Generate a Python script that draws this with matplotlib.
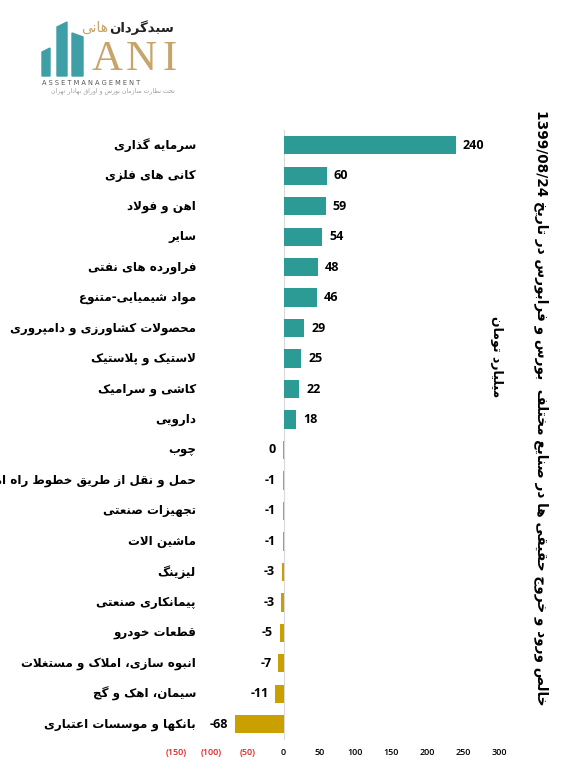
import re
import matplotlib
matplotlib.use("Agg")
import matplotlib.pyplot as plt
from matplotlib.patches import Polygon
from matplotlib.ticker import FuncFormatter
import matplotlib.transforms as mtransforms

# --- data ---
sectors = [
    "سرمایه گذاری", "کانی های فلزی", "اهن و فولاد", "سایر", "فراورده های نفتی",
    "مواد شیمیایی-متنوع", "محصولات کشاورزی و دامپروری", "لاستیک و پلاستیک",
    "کاشی و سرامیک", "دارویی", "چوب", "حمل و نقل از طریق خطوط راه اهن",
    "تجهیزات صنعتی", "ماشین الات", "لیزینگ", "پیمانکاری صنعتی", "قطعات خودرو",
    "انبوه سازی، املاک و مستغلات", "سیمان، اهک و گچ", "بانکها و موسسات اعتباری",
]
net_flow = [240, 60, 59, 54, 48, 46, 29, 25, 22, 18,
            -0.3, -0.7, -0.9, -1.1, -2.6, -3.2, -4.8, -7.2, -11.3, -68]
flow_labels = ["240", "60", "59", "54", "48", "46", "29", "25", "22", "18",
               "0", "-1", "-1", "-1", "-3", "-3", "-5", "-7", "-11", "-68"]
x_ticks = [-150, -100, -50, 0, 50, 100, 150, 200, 250, 300]
title = "خالص ورود و خروج حقیقی ها در صنایع مختلف  بورس و فرابورس در تاریخ 1399/08/24"
unit = "میلیارد تومان"

TEAL = "#2C9A95"
GOLD = "#C9A000"

# --- tiny arabic/persian shaper (matplotlib has no complex text layout) ---
FORMS = {
    "ا": (0xFE8D, 0xFE8E), "آ": (0xFE81, 0xFE82), "د": (0xFEA9, 0xFEAA),
    "ذ": (0xFEAB, 0xFEAC), "ر": (0xFEAD, 0xFEAE), "ز": (0xFEAF, 0xFEB0),
    "ژ": (0xFB8A, 0xFB8B), "و": (0xFEED, 0xFEEE),
    "ب": (0xFE8F, 0xFE90, 0xFE91, 0xFE92), "ت": (0xFE95, 0xFE96, 0xFE97, 0xFE98),
    "ث": (0xFE99, 0xFE9A, 0xFE9B, 0xFE9C), "ج": (0xFE9D, 0xFE9E, 0xFE9F, 0xFEA0),
    "ح": (0xFEA1, 0xFEA2, 0xFEA3, 0xFEA4), "خ": (0xFEA5, 0xFEA6, 0xFEA7, 0xFEA8),
    "س": (0xFEB1, 0xFEB2, 0xFEB3, 0xFEB4), "ش": (0xFEB5, 0xFEB6, 0xFEB7, 0xFEB8),
    "ص": (0xFEB9, 0xFEBA, 0xFEBB, 0xFEBC), "ض": (0xFEBD, 0xFEBE, 0xFEBF, 0xFEC0),
    "ط": (0xFEC1, 0xFEC2, 0xFEC3, 0xFEC4), "ظ": (0xFEC5, 0xFEC6, 0xFEC7, 0xFEC8),
    "ع": (0xFEC9, 0xFECA, 0xFECB, 0xFECC), "غ": (0xFECD, 0xFECE, 0xFECF, 0xFED0),
    "ف": (0xFED1, 0xFED2, 0xFED3, 0xFED4), "ق": (0xFED5, 0xFED6, 0xFED7, 0xFED8),
    "ل": (0xFEDD, 0xFEDE, 0xFEDF, 0xFEE0), "م": (0xFEE1, 0xFEE2, 0xFEE3, 0xFEE4),
    "ن": (0xFEE5, 0xFEE6, 0xFEE7, 0xFEE8), "ه": (0xFEE9, 0xFEEA, 0xFEEB, 0xFEEC),
    "ی": (0xFBFC, 0xFBFD, 0xFBFE, 0xFBFF), "ي": (0xFEF1, 0xFEF2, 0xFEF3, 0xFEF4),
    "پ": (0xFB56, 0xFB57, 0xFB58, 0xFB59), "چ": (0xFB7A, 0xFB7B, 0xFB7C, 0xFB7D),
    "ک": (0xFB8E, 0xFB8F, 0xFB90, 0xFB91), "گ": (0xFB92, 0xFB93, 0xFB94, 0xFB95),
}


def shape(txt):
    out = []
    i = 0
    n = len(txt)
    while i < n:
        c = txt[i]
        if c not in FORMS:
            out.append(c)
            i += 1
            continue
        prev = txt[i - 1] if i > 0 else ""
        jp = prev in FORMS and len(FORMS[prev]) == 4
        if c == "ل" and i + 1 < n and txt[i + 1] in "اآ":
            lig = (0xFEFB, 0xFEFC) if txt[i + 1] == "ا" else (0xFEF5, 0xFEF6)
            out.append(chr(lig[1] if jp else lig[0]))
            i += 2
            continue
        nxt = txt[i + 1] if i + 1 < n else ""
        f = FORMS[c]
        jn = len(f) == 4 and nxt in FORMS
        if jp and jn:
            g = f[3]
        elif jp:
            g = f[1]
        elif jn:
            g = f[2]
        else:
            g = f[0]
        out.append(chr(g))
        i += 1
    s = "".join(out)[::-1]
    return re.sub(r"[0-9A-Za-z/.]+", lambda m: m.group(0)[::-1], s)


# --- figure ---
W, H = 572, 777
fig = plt.figure(figsize=(W / 100, H / 100), dpi=100)
ax = fig.add_axes([175.75 / W, 1 - 739.5 / H, 323.25 / W, 609.5 / H])

ypos = list(range(len(sectors)))
colors = [TEAL if v > 0 else GOLD for v in net_flow]
ax.barh(ypos, net_flow, height=0.6, color=colors, zorder=2)
ax.axvline(0, color="#D9D9D9", lw=0.8, zorder=1)
ax.set_xlim(-150, 300)
ax.set_ylim(len(sectors) - 0.5, -0.5)
for s in ax.spines.values():
    s.set_visible(False)
ax.set_yticks([])
ax.set_xticks(x_ticks)
ax.xaxis.set_major_formatter(FuncFormatter(
    lambda v, p: "(%d)" % abs(v) if v < 0 else "%d" % v))
ax.tick_params(axis="x", length=0, pad=6, labelsize=6.5)
for lbl, v in zip(ax.get_xticklabels(), x_ticks):
    lbl.set_fontfamily("Open Sans")
    lbl.set_fontweight("semibold")
    if v < 0:
        lbl.set_color("#E02020")

# value labels
for y, v, t in zip(ypos, net_flow, flow_labels):
    if v >= 0:
        ax.annotate(t, (v, y), xytext=(5, 0), textcoords="offset points",
                    ha="left", va="center", fontsize=9, fontweight="bold",
                    family="Open Sans")
    else:
        ax.annotate(t, (min(v, -1.5), y), xytext=(-5, 0), textcoords="offset points",
                    ha="right", va="center", fontsize=9, fontweight="bold",
                    family="Open Sans")

# category labels, right aligned left of the chart
trans = mtransforms.blended_transform_factory(fig.transFigure, ax.transData)
for y, name in zip(ypos, sectors):
    fig.text(196 / W, y, shape(name), transform=trans, ha="right", va="center",
             fontsize=8.6, fontweight="bold", family="DejaVu Sans")

# rotated title and unit
fig.text(541 / W, 1 - 408 / H, shape(title), rotation=-90, ha="center", va="center",
         fontsize=9.8, fontweight="bold", family="DejaVu Sans")
fig.text(497 / W, 1 - 357 / H, shape(unit), rotation=-90, ha="center", va="center",
         fontsize=9, fontweight="bold", family="DejaVu Sans")

# --- logo (top left) ---
def px(x, y):
    return (x / W, 1 - y / H)

logo_bars = [[(42, 76), (50, 76), (50, 48), (42, 52)],
             [(57, 76), (67, 76), (67, 22), (57, 27)],
             [(72, 76), (83, 76), (83, 37), (72, 33)]]
for pts in logo_bars:
    fig.patches.append(Polygon([px(*p) for p in pts], closed=True,
                               transform=fig.transFigure, color="#3E9FA6"))
for letter, lx in zip("ANI", [92, 126, 163]):
    fig.text(*px(lx, 79), letter, ha="left", va="bottom", fontsize=31,
             family="Liberation Serif", color="#C8A46A")
fig.text(*px(174, 28), shape("سبدگردان"), ha="right", va="center", fontsize=9.5,
         fontweight="bold", family="DejaVu Sans", color="#222222")
fig.text(*px(108, 28), shape("هانی"), ha="right", va="center", fontsize=10,
         family="DejaVu Sans", color="#C8A46A")
fig.text(*px(42, 83), "A S S E T M A N A G E M E N T", ha="left", va="center",
         fontsize=4.8, family="DejaVu Sans", color="#555555")
fig.text(*px(175, 91), shape("تحت نظارت سازمان بورس و اوراق بهادار تهران"),
         ha="right", va="center", fontsize=4.4, family="DejaVu Sans", color="#999999")

fig.savefig("out.png", dpi=100, facecolor="white")
